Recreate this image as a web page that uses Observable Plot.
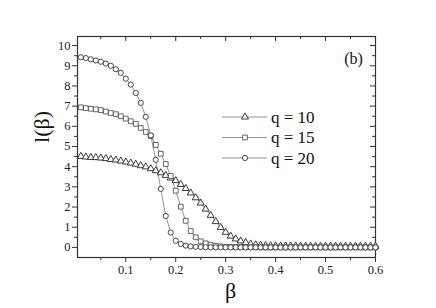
<!DOCTYPE html>
<html>
<head>
<meta charset="utf-8">
<script src="https://cdn.jsdelivr.net/npm/d3@7"></script>
<script src="https://cdn.jsdelivr.net/npm/@observablehq/plot@0.6"></script>
<style>
  html, body { margin: 0; padding: 0; background: #fff; }
  #wrap { position: relative; width: 436px; height: 308px; }
  #wrap svg { position: absolute; left: 0; top: 0; }
  #wrap svg text { font-family: "Liberation Serif", "DejaVu Serif", "Times New Roman", serif !important; }
</style>
</head>
<body>
<div id="wrap"></div>
<script>
// ---- data ----
const beta = [0.01,0.02,0.03,0.04,0.05,0.06,0.07,0.08,0.09,0.10,
              0.11,0.12,0.13,0.14,0.15,0.16,0.17,0.18,0.19,0.20,
              0.21,0.22,0.23,0.24,0.25,0.26,0.27,0.28,0.29,0.30,
              0.31,0.32,0.33,0.34,0.35,0.36,0.37,0.38,0.39,0.40,
              0.41,0.42,0.43,0.44,0.45,0.46,0.47,0.48,0.49,0.50,
              0.51,0.52,0.53,0.54,0.55,0.56,0.57,0.58,0.59,0.60];
const q10 = [4.51,4.48,4.46,4.45,4.43,4.40,4.36,4.33,4.28,4.23,
             4.18,4.12,4.05,3.99,3.90,3.80,3.70,3.57,3.44,3.31,
             3.12,2.92,2.70,2.46,2.20,1.90,1.59,1.28,0.99,0.75,
             0.56,0.42,0.32,0.24,0.17,0.13,0.11,0.09,0.08,0.08,
             0.07,0.07,0.07,0.07,0.06,0.06,0.06,0.06,0.06,0.06,
             0.06,0.06,0.06,0.06,0.06,0.06,0.06,0.06,0.06,0.06];
const q15 = [6.94,6.90,6.87,6.84,6.80,6.73,6.66,6.60,6.50,6.38,
             6.25,6.12,5.92,5.72,5.52,5.08,4.64,4.13,3.54,2.81,
             2.02,1.32,0.81,0.50,0.30,0.20,0.13,0.08,0.05,0.03,
             0.02,0.02,0.01,0.01,0.01,0.01,0.00,0.00,0.00,0.00,
             0.00,0.00,0.00,0.00,0.00,0.00,0.00,0.00,0.00,0.00,
             0.00,0.00,0.00,0.00,0.00,0.00,0.00,0.00,0.00,0.00];
const q20 = [9.42,9.38,9.32,9.26,9.20,9.11,9.00,8.83,8.65,8.36,
             8.07,7.65,7.16,6.47,5.55,4.34,2.90,1.56,0.74,0.33,
             0.17,0.09,0.05,0.03,0.02,0.01,0.01,0.00,0.00,0.00,
             0.00,0.00,0.00,0.00,0.00,0.00,0.00,0.00,0.00,0.00,
             0.00,0.00,0.00,0.00,0.00,0.00,0.00,0.00,0.00,0.00,
             0.00,0.00,0.00,0.00,0.00,0.00,0.00,0.00,0.00,0.00];
const seriesNames = ["q = 10", "q = 15", "q = 20"];
const seriesValues = [q10, q15, q20];
const seriesSymbols = ["triangle", "square", "circle"];
const xTicks = [0.1, 0.2, 0.3, 0.4, 0.5, 0.6];
const xMinor = [0.05, 0.15, 0.25, 0.35, 0.45, 0.55];
const yTicks = [0,1,2,3,4,5,6,7,8,9,10];
const yMinor = [0.5,1.5,2.5,3.5,4.5,5.5,6.5,7.5,8.5,9.5];
const xLabel = "β";
const yLabel = "l(β)";
const panelTag = "(b)";

// ---- layout / styles ----
const W = 436, H = 308, ML = 77, MR = 61, MT = 36, MB = 51;
const frameW = W - ML - MR, frameH = H - MT - MB;
const lineColor = "#777";
const axisColor = "#333";
const markStroke = ["#222", "#555", "#333"];
const markR = [2.6, 2.7, 2.6];
const FONT = '"Liberation Serif", "DejaVu Serif", "Times New Roman", serif';

const rows = [];
seriesNames.forEach((name, i) => {
  beta.forEach((b, j) => rows.push({series: name, beta: b, value: seriesValues[i][j], idx: i}));
});

const marks = [
  Plot.frame({stroke: axisColor, strokeWidth: 1.2}),
  Plot.axisX(xTicks, {anchor: "bottom", tickSize: 5, tickPadding: 3, tickFormat: d => d.toFixed(1), label: null, fontSize: 12.5, stroke: axisColor}),
  Plot.axisX(xMinor, {anchor: "bottom", tickSize: 3, tickFormat: () => "", label: null, stroke: axisColor}),
  Plot.axisY(yTicks, {anchor: "left", tickSize: 5, tickPadding: 2, tickFormat: d => String(d), label: null, fontSize: 12.5, stroke: axisColor}),
  Plot.axisY(yMinor, {anchor: "left", tickSize: 3, tickFormat: () => "", label: null, stroke: axisColor}),
  // inward ticks on top and right
  Plot.tickX(xTicks, {x: d => d, insetBottom: frameH - 5, stroke: axisColor}),
  Plot.tickX(xMinor, {x: d => d, insetBottom: frameH - 3, stroke: axisColor}),
  Plot.tickY(yTicks, {y: d => d, insetLeft: frameW - 5, stroke: axisColor}),
  Plot.tickY(yMinor, {y: d => d, insetLeft: frameW - 3, stroke: axisColor}),
];

seriesNames.forEach((name, i) => {
  const data = rows.filter(d => d.idx === i);
  marks.push(Plot.line(data, {x: "beta", y: "value", stroke: lineColor, strokeWidth: 0.8}));
});
seriesNames.forEach((name, i) => {
  const data = rows.filter(d => d.idx === i);
  marks.push(Plot.dot(data, {x: "beta", y: "value", symbol: () => seriesSymbols[i], r: markR[i], stroke: markStroke[i], strokeWidth: 0.9, fill: "white"}));
});

marks.push(Plot.text([yLabel], {frameAnchor: "left", dx: -36, dy: -20, rotate: -90, fontSize: 22, textAnchor: "middle", lineAnchor: "middle", fill: "#111"}));
marks.push(Plot.text([xLabel], {frameAnchor: "bottom", dx: 4, dy: 33, fontSize: 22, textAnchor: "middle", lineAnchor: "middle", fill: "#111"}));
marks.push(Plot.text([panelTag], {frameAnchor: "top-right", dx: -22, dy: 22, fontSize: 16, textAnchor: "middle", lineAnchor: "middle", fill: "#111"}));

const chart = Plot.plot({
  width: W, height: H,
  marginLeft: ML, marginRight: MR, marginTop: MT, marginBottom: MB,
  x: {domain: [0.0033, 0.6]},
  y: {domain: [-0.5, 10.45]},
  symbol: {type: "identity"},
  style: {fontFamily: FONT, fontSize: "12.5px", color: "#222", background: "white"},
  marks
});
const wrap = document.getElementById("wrap");
wrap.appendChild(chart);

// ---- legend overlay ----
const legendSvg = d3.create("svg").attr("width", W).attr("height", H).style("pointer-events", "none");
const legX0 = 222, legX1 = 267, legMx = 245, legText = 271, legY0 = 117, legDy = 20.5;
seriesNames.forEach((name, i) => {
  const y = legY0 + i * legDy;
  const g = legendSvg.append("g");
  g.append("line").attr("x1", legX0).attr("x2", legX1).attr("y1", y).attr("y2", y).attr("stroke", lineColor).attr("stroke-width", 0.8);
  const symType = {triangle: d3.symbolTriangle, square: d3.symbolSquare, circle: d3.symbolCircle}[seriesSymbols[i]];
  const r = markR[i];
  g.append("path").attr("transform", `translate(${legMx},${y})`)
    .attr("d", d3.symbol(symType, Math.PI * r * r)())
    .attr("fill", "white").attr("stroke", markStroke[i]).attr("stroke-width", 0.9);
  g.append("text").attr("x", legText).attr("y", y).attr("dy", "0.35em")
    .attr("font-size", 17).attr("fill", "#111").text(name);
});
wrap.appendChild(legendSvg.node());
</script>
</body>
</html>
